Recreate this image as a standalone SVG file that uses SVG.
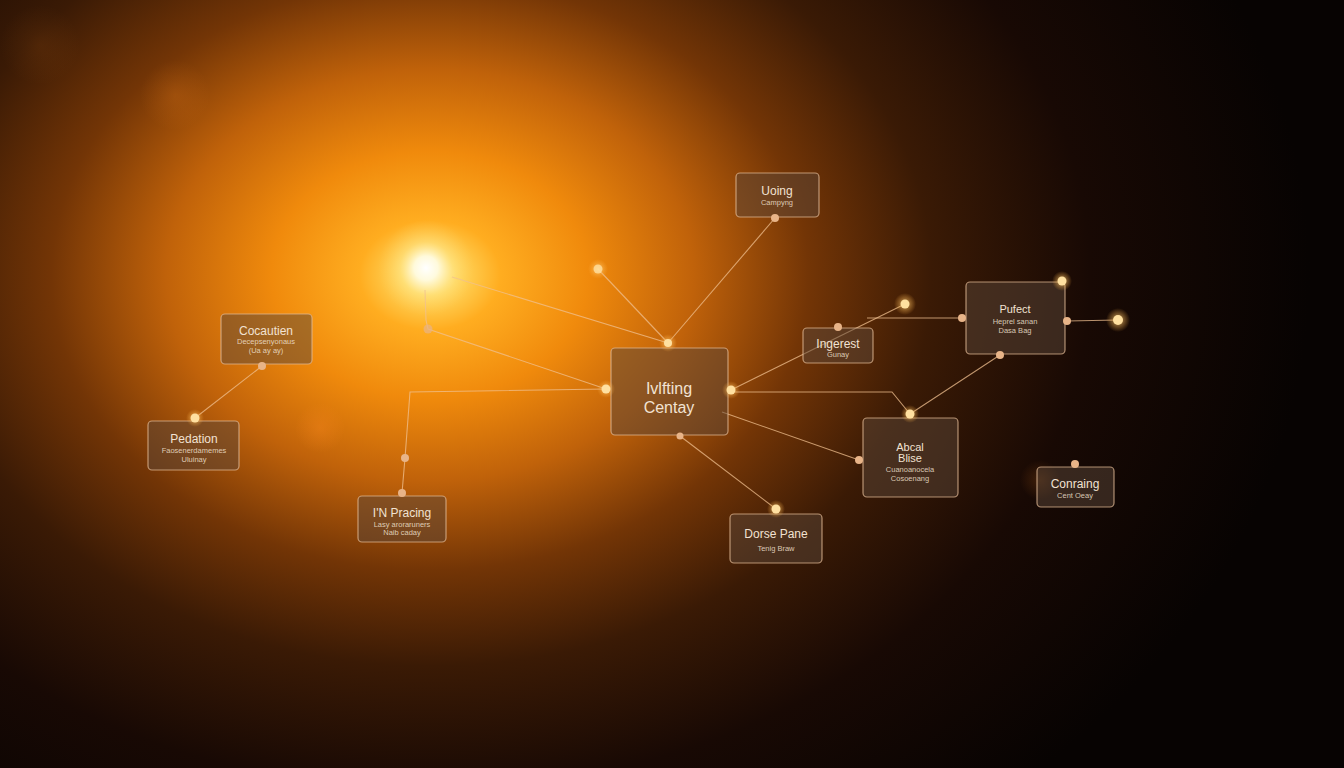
<svg xmlns="http://www.w3.org/2000/svg" width="1344" height="768" viewBox="0 0 1344 768">
<defs>
<radialGradient id="bg" gradientUnits="userSpaceOnUse" cx="430" cy="275" r="880" gradientTransform="translate(430,275) scale(1,0.78) translate(-430,-275)">
<stop offset="0" stop-color="#fff6c8"/>
<stop offset="0.03" stop-color="#ffd860"/>
<stop offset="0.08" stop-color="#ffad20"/>
<stop offset="0.18" stop-color="#f08a0c"/>
<stop offset="0.3" stop-color="#c0620a"/>
<stop offset="0.43" stop-color="#733506"/>
<stop offset="0.57" stop-color="#3a1a05"/>
<stop offset="0.75" stop-color="#180904"/>
<stop offset="1" stop-color="#070302"/>
</radialGradient>
<radialGradient id="sun">
<stop offset="0" stop-color="#ffffff" stop-opacity="1"/>
<stop offset="0.25" stop-color="#fffbe0" stop-opacity="0.95"/>
<stop offset="0.55" stop-color="#ffe890" stop-opacity="0.45"/>
<stop offset="1" stop-color="#ffd060" stop-opacity="0"/>
</radialGradient>
<radialGradient id="bokeh">
<stop offset="0" stop-color="#ff8a20" stop-opacity="0.35"/>
<stop offset="1" stop-color="#ff8a20" stop-opacity="0"/>
</radialGradient>
<radialGradient id="glowdot">
<stop offset="0" stop-color="#ffd080" stop-opacity="0.8"/>
<stop offset="1" stop-color="#ffb040" stop-opacity="0"/>
</radialGradient>
<style>
.box{fill:#5a4638;fill-opacity:0.5;stroke:#e0b894;stroke-opacity:0.75;stroke-width:1.2}
.t{font-family:"Liberation Sans",Arial,sans-serif;fill:#f2e2d2;text-anchor:middle}
.h{font-size:12px}
.s{font-size:7.5px;fill-opacity:0.85}
.c{stroke:#f0c090;stroke-opacity:0.75;stroke-width:1.1;fill:none}
.d{fill:#e8b488}
.b{fill:#ffe0a0}
</style>
</defs>
<rect width="1344" height="768" fill="url(#bg)"/>
<circle cx="175" cy="95" r="35" fill="url(#bokeh)" opacity="0.5"/>
<circle cx="320" cy="428" r="25" fill="url(#bokeh)" opacity="0.9"/>
<circle cx="40" cy="45" r="40" fill="url(#bokeh)" opacity="0.25"/>
<circle cx="1040" cy="480" r="20" fill="url(#bokeh)" opacity="0.5"/>
<circle cx="426" cy="268" r="48" fill="url(#sun)"/>

<g id="connectors">
<polyline class="c" points="452,277 668,343"/>
<line class="c" x1="598" y1="269" x2="668" y2="343"/>
<line class="c" x1="668" y1="343" x2="775" y2="218"/>
<polyline class="c" points="425,290 426,320 428,329 606,389"/>
<polyline class="c" points="606,389 410,392 405,458 402,493"/>
<line class="c" x1="731" y1="390" x2="905" y2="304"/>
<polyline class="c" points="867,318 962,318"/>
<polyline class="c" points="731,392 892,392 910,414 1000,355"/>
<line class="c" x1="722" y1="412" x2="859" y2="460"/>
<line class="c" x1="680" y1="436" x2="776" y2="509"/>
<line class="c" x1="1067" y1="321" x2="1118" y2="320"/>
<line class="c" x1="262" y1="366" x2="195" y2="418"/>
</g>

<g id="node-center"><rect class="box" x="611" y="348" width="117" height="87" rx="4"/>
<text class="t" x="669" y="394" font-size="16">Ivlfting</text><text class="t" x="669" y="413" font-size="16">Centay</text></g>
<g id="node-uoing"><rect class="box" x="736" y="173" width="83" height="44" rx="4"/>
<text class="t h" x="777" y="195">Uoing</text><text class="t s" x="777" y="205">Campyng</text></g>
<g id="node-pufect"><rect class="box" x="966" y="282" width="99" height="72" rx="4"/>
<text class="t" x="1015" y="313" font-size="11">Pufect</text><text class="t s" x="1015" y="324">Heprel sanan</text><text class="t s" x="1015" y="333">Dasa Bag</text></g>
<g id="node-ingerest"><rect class="box" x="803" y="328" width="70" height="35" rx="4"/>
<text class="t h" x="838" y="348">Ingerest</text><text class="t s" x="838" y="357">Gunay</text></g>
<g id="node-abcal"><rect class="box" x="863" y="418" width="95" height="79" rx="4"/>
<text class="t" x="910" y="451" font-size="11">Abcal</text><text class="t" x="910" y="462" font-size="11">Blise</text><text class="t s" x="910" y="472">Cuanoanocela</text><text class="t s" x="910" y="481">Cosoenang</text></g>
<g id="node-conraing"><rect class="box" x="1037" y="467" width="77" height="40" rx="4"/>
<text class="t h" x="1075" y="488">Conraing</text><text class="t s" x="1075" y="498">Cent Oeay</text></g>
<g id="node-dorse"><rect class="box" x="730" y="514" width="92" height="49" rx="4"/>
<text class="t h" x="776" y="538">Dorse Pane</text><text class="t s" x="776" y="551">Tenig Braw</text></g>
<g id="node-pracing"><rect class="box" x="358" y="496" width="88" height="46" rx="4"/>
<text class="t h" x="402" y="517">I'N Pracing</text><text class="t s" x="402" y="527">Lasy aroraruners</text><text class="t s" x="402" y="535">Naib caday</text></g>
<g id="node-pedation"><rect class="box" x="148" y="421" width="91" height="49" rx="4"/>
<text class="t h" x="194" y="443">Pedation</text><text class="t s" x="194" y="453">Faosenerdamemes</text><text class="t s" x="194" y="462">Uluinay</text></g>
<g id="node-cocautien"><rect class="box" x="221" y="314" width="91" height="50" rx="4"/>
<text class="t h" x="266" y="335">Cocautien</text><text class="t s" x="266" y="344">Decepsenyonaus</text><text class="t s" x="266" y="353">(Ua ay ay)</text></g>

<g id="dots">
<circle cx="598" cy="269" r="10" fill="url(#glowdot)"/><circle class="b" cx="598" cy="269" r="4.5" fill-opacity="0.8"/>
<circle cx="668" cy="343" r="9" fill="url(#glowdot)"/><circle class="b" cx="668" cy="343" r="4"/>
<circle class="d" cx="775" cy="218" r="4"/>
<circle class="d" cx="428" cy="329" r="4.5" fill-opacity="0.7"/>
<circle cx="606" cy="389" r="9" fill="url(#glowdot)"/><circle class="b" cx="606" cy="389" r="4.5"/>
<circle cx="731" cy="390" r="9" fill="url(#glowdot)"/><circle class="b" cx="731" cy="390" r="4.5"/>
<circle class="d" cx="680" cy="436" r="3.5"/>
<circle class="d" cx="405" cy="458" r="4"/>
<circle class="d" cx="402" cy="493" r="4"/>
<circle class="d" cx="838" cy="327" r="4"/>
<circle cx="905" cy="304" r="11" fill="url(#glowdot)"/><circle class="b" cx="905" cy="304" r="4.5"/>
<circle class="d" cx="962" cy="318" r="4"/>
<circle cx="910" cy="414" r="9" fill="url(#glowdot)"/><circle class="b" cx="910" cy="414" r="4.5"/>
<circle class="d" cx="1000" cy="355" r="4"/>
<circle class="d" cx="859" cy="460" r="4"/>
<circle cx="776" cy="509" r="9" fill="url(#glowdot)"/><circle class="b" cx="776" cy="509" r="4.5"/>
<circle class="d" cx="1067" cy="321" r="4"/>
<circle cx="1118" cy="320" r="12" fill="url(#glowdot)"/><circle class="b" cx="1118" cy="320" r="5"/>
<circle cx="1062" cy="281" r="10" fill="url(#glowdot)"/><circle class="b" cx="1062" cy="281" r="4.5"/>
<circle class="d" cx="1075" cy="464" r="4"/>
<circle class="d" cx="262" cy="366" r="4"/>
<circle cx="195" cy="418" r="9" fill="url(#glowdot)"/><circle class="b" cx="195" cy="418" r="4.5"/>
</g>
</svg>
